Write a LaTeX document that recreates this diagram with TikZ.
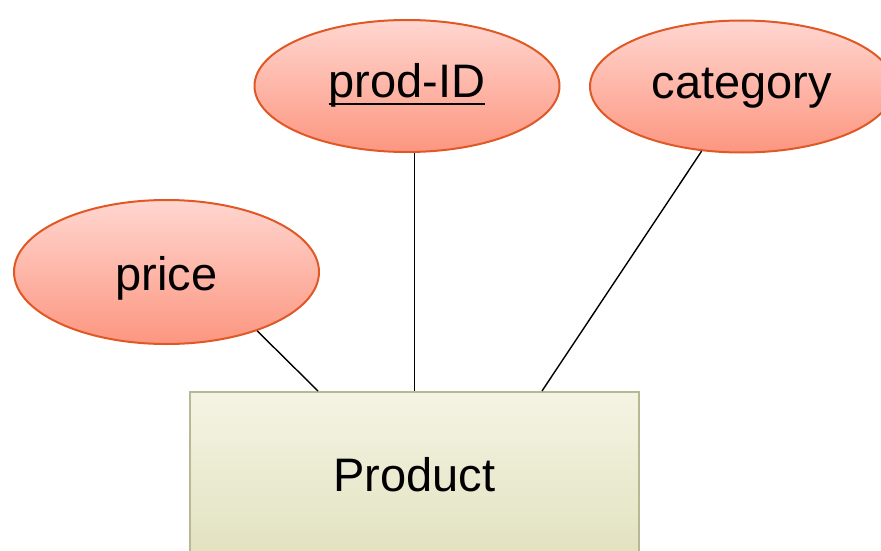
\documentclass[tikz,border=0pt]{standalone}
\usepackage{fontspec}
\setmainfont{Liberation Sans}
\usetikzlibrary{shapes.geometric}
\definecolor{attrtop}{RGB}{255,214,208}
\definecolor{attrbot}{RGB}{252,150,128}
\definecolor{attrline}{RGB}{224,88,38}
\definecolor{enttop}{RGB}{244,244,228}
\definecolor{entbot}{RGB}{226,226,192}
\definecolor{entline}{RGB}{184,184,148}
\newcommand{\myul}[1]{\setbox0=\hbox{#1}\leavevmode\rlap{\rule[-7.3pt]{\wd0}{2pt}}\box0}
\begin{document}
\begin{tikzpicture}[x=1pt,y=-1pt,
  attr/.style={ellipse, draw=attrline, line width=2pt, top color=attrtop, bottom color=attrbot,
    inner sep=0pt, minimum width=305pt, minimum height=132pt,
    font=\fontsize{47}{56}\selectfont, text height=34pt, text depth=10pt},
  entity/.style={rectangle, draw=entline, line width=2pt, top color=enttop, bottom color=entbot,
    inner sep=0pt, minimum width=449pt, minimum height=164pt,
    font=\fontsize{47}{56}\selectfont, text height=44pt, text depth=10pt},
  conn/.style={draw=black, line width=1.4pt}]
\useasboundingbox (0,0) rectangle (881,551);
\clip (0,0) rectangle (881,551);
\node[attr] (prodid) at (407,86) {\myul{prod-ID}};
\node[attr, minimum width=304pt] (category) at (742,86.5) {category};
\node[attr, minimum height=144pt, text height=46pt] (price) at (166.5,272) {price};
\node[entity] (product) at (414.5,474) {Product};
\draw[conn] (price.-33) -- ([xshift=129pt]product.north west);
\draw[conn] (prodid.south -| product.north) -- (product.north);
\draw[conn] (category.238) -- ([xshift=353pt]product.north west);
\end{tikzpicture}
\end{document}
